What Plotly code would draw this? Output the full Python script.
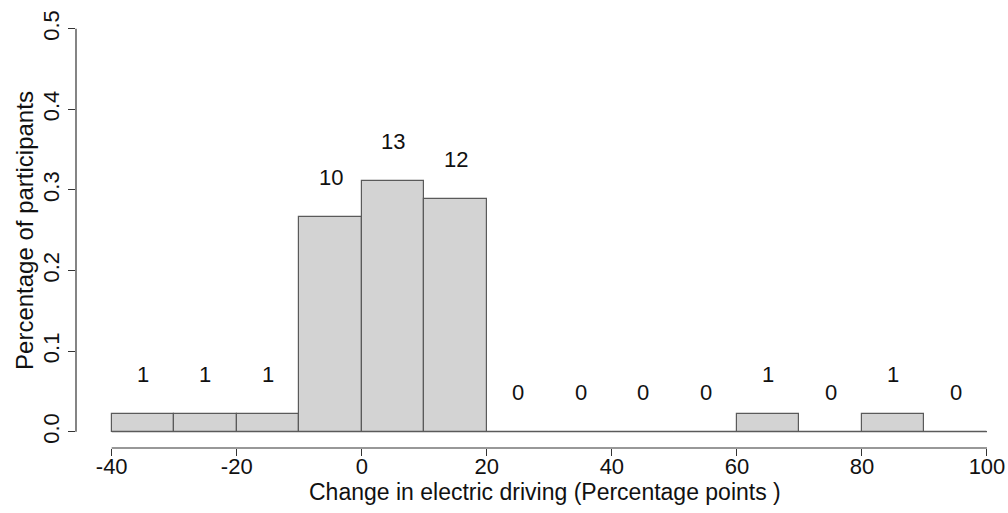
import plotly.graph_objects as go

bin_left = [-40, -30, -20, -10, 0, 10, 20, 30, 40, 50, 60, 70, 80, 90]
bin_right = [-30, -20, -10, 0, 10, 20, 30, 40, 50, 60, 70, 80, 90, 100]
heights = [0.0222, 0.0222, 0.0222, 0.2667, 0.3111, 0.2889, 0, 0, 0, 0, 0.0222, 0, 0.0222, 0]
count_labels = ["1", "1", "1", "10", "13", "12", "0", "0", "0", "0", "1", "0", "1", "0"]
x_ticks = [-40, -20, 0, 20, 40, 60, 80, 100]
x_tick_text = ["-40", "-20", "0", "20", "40", "60", "80", "100"]
y_ticks = [0.0, 0.1, 0.2, 0.3, 0.4, 0.5]
y_tick_text = ["0.0", "0.1", "0.2", "0.3", "0.4", "0.5"]

centers = [(a + b) / 2 for a, b in zip(bin_left, bin_right)]
widths = [b - a for a, b in zip(bin_left, bin_right)]

FONT = "Arial, Liberation Sans, sans-serif"
AX = "#333333"
TXT = "#111111"
FS = 22

fig = go.Figure()
fig.add_trace(go.Bar(
    x=centers, y=heights, width=widths,
    marker=dict(color="#D3D3D3", line=dict(color="#5a5a5a", width=1.2)),
    hoverinfo="skip", showlegend=False,
))

# zero-height baseline across all bins (as R draws empty bins)
fig.add_shape(type="line", xref="x", yref="y", x0=bin_left[0], x1=bin_right[-1],
              y0=0, y1=0, line=dict(color="#5a5a5a", width=1.2))
# axis lines (R style, spanning tick range only)
fig.add_shape(type="line", xref="x", yref="paper", x0=x_ticks[0], x1=x_ticks[-1],
              y0=0, y1=0, line=dict(color=AX, width=1.2))
fig.add_shape(type="line", xref="paper", yref="y", x0=0, x1=0,
              y0=y_ticks[0], y1=y_ticks[-1], line=dict(color=AX, width=1.2))

for c, h, t in zip(centers, heights, count_labels):
    fig.add_annotation(x=c, y=h, text=t, showarrow=False, yshift=39,
                       font=dict(family=FONT, size=FS, color=TXT))

fig.add_annotation(xref="paper", yref="paper", x=-0.0547, y=0.499, text="Percentage of participants",
                   textangle=-90, showarrow=False, xanchor="center", yanchor="middle",
                   font=dict(family=FONT, size=24, color=TXT))
fig.add_annotation(xref="paper", yref="paper", x=0.5027, y=-0.0966, yshift=-2,
                   text="Change in electric driving (Percentage points )",
                   showarrow=False, xanchor="center", yanchor="middle",
                   font=dict(family=FONT, size=23, color=TXT))

fig.update_layout(
    width=1008, height=513,
    margin=dict(l=76, r=0, t=13, b=65, autoexpand=False),
    plot_bgcolor="white", paper_bgcolor="white",
    bargap=0,
    xaxis=dict(range=[-45.71, 103.36], tickvals=x_ticks, ticktext=x_tick_text, ticks="outside",
               ticklen=7, tickcolor=AX, tickwidth=1.2, showgrid=False, zeroline=False,
               showline=False, automargin=False, ticklabelstandoff=-8,
               tickfont=dict(family=FONT, size=FS, color=TXT)),
    yaxis=dict(range=[-0.0202, 0.5195], tickvals=y_ticks, ticktext=y_tick_text, ticks="outside",
               ticklen=7, tickcolor=AX, tickwidth=1.2, showgrid=False, zeroline=False,
               showline=False, tickangle=-90, automargin=False,
               tickfont=dict(family=FONT, size=FS, color=TXT)),
)

fig.write_html("out.html", config={"displayModeBar": False},
               post_script="document.body.style.margin='0';document.body.style.overflow='hidden';")
